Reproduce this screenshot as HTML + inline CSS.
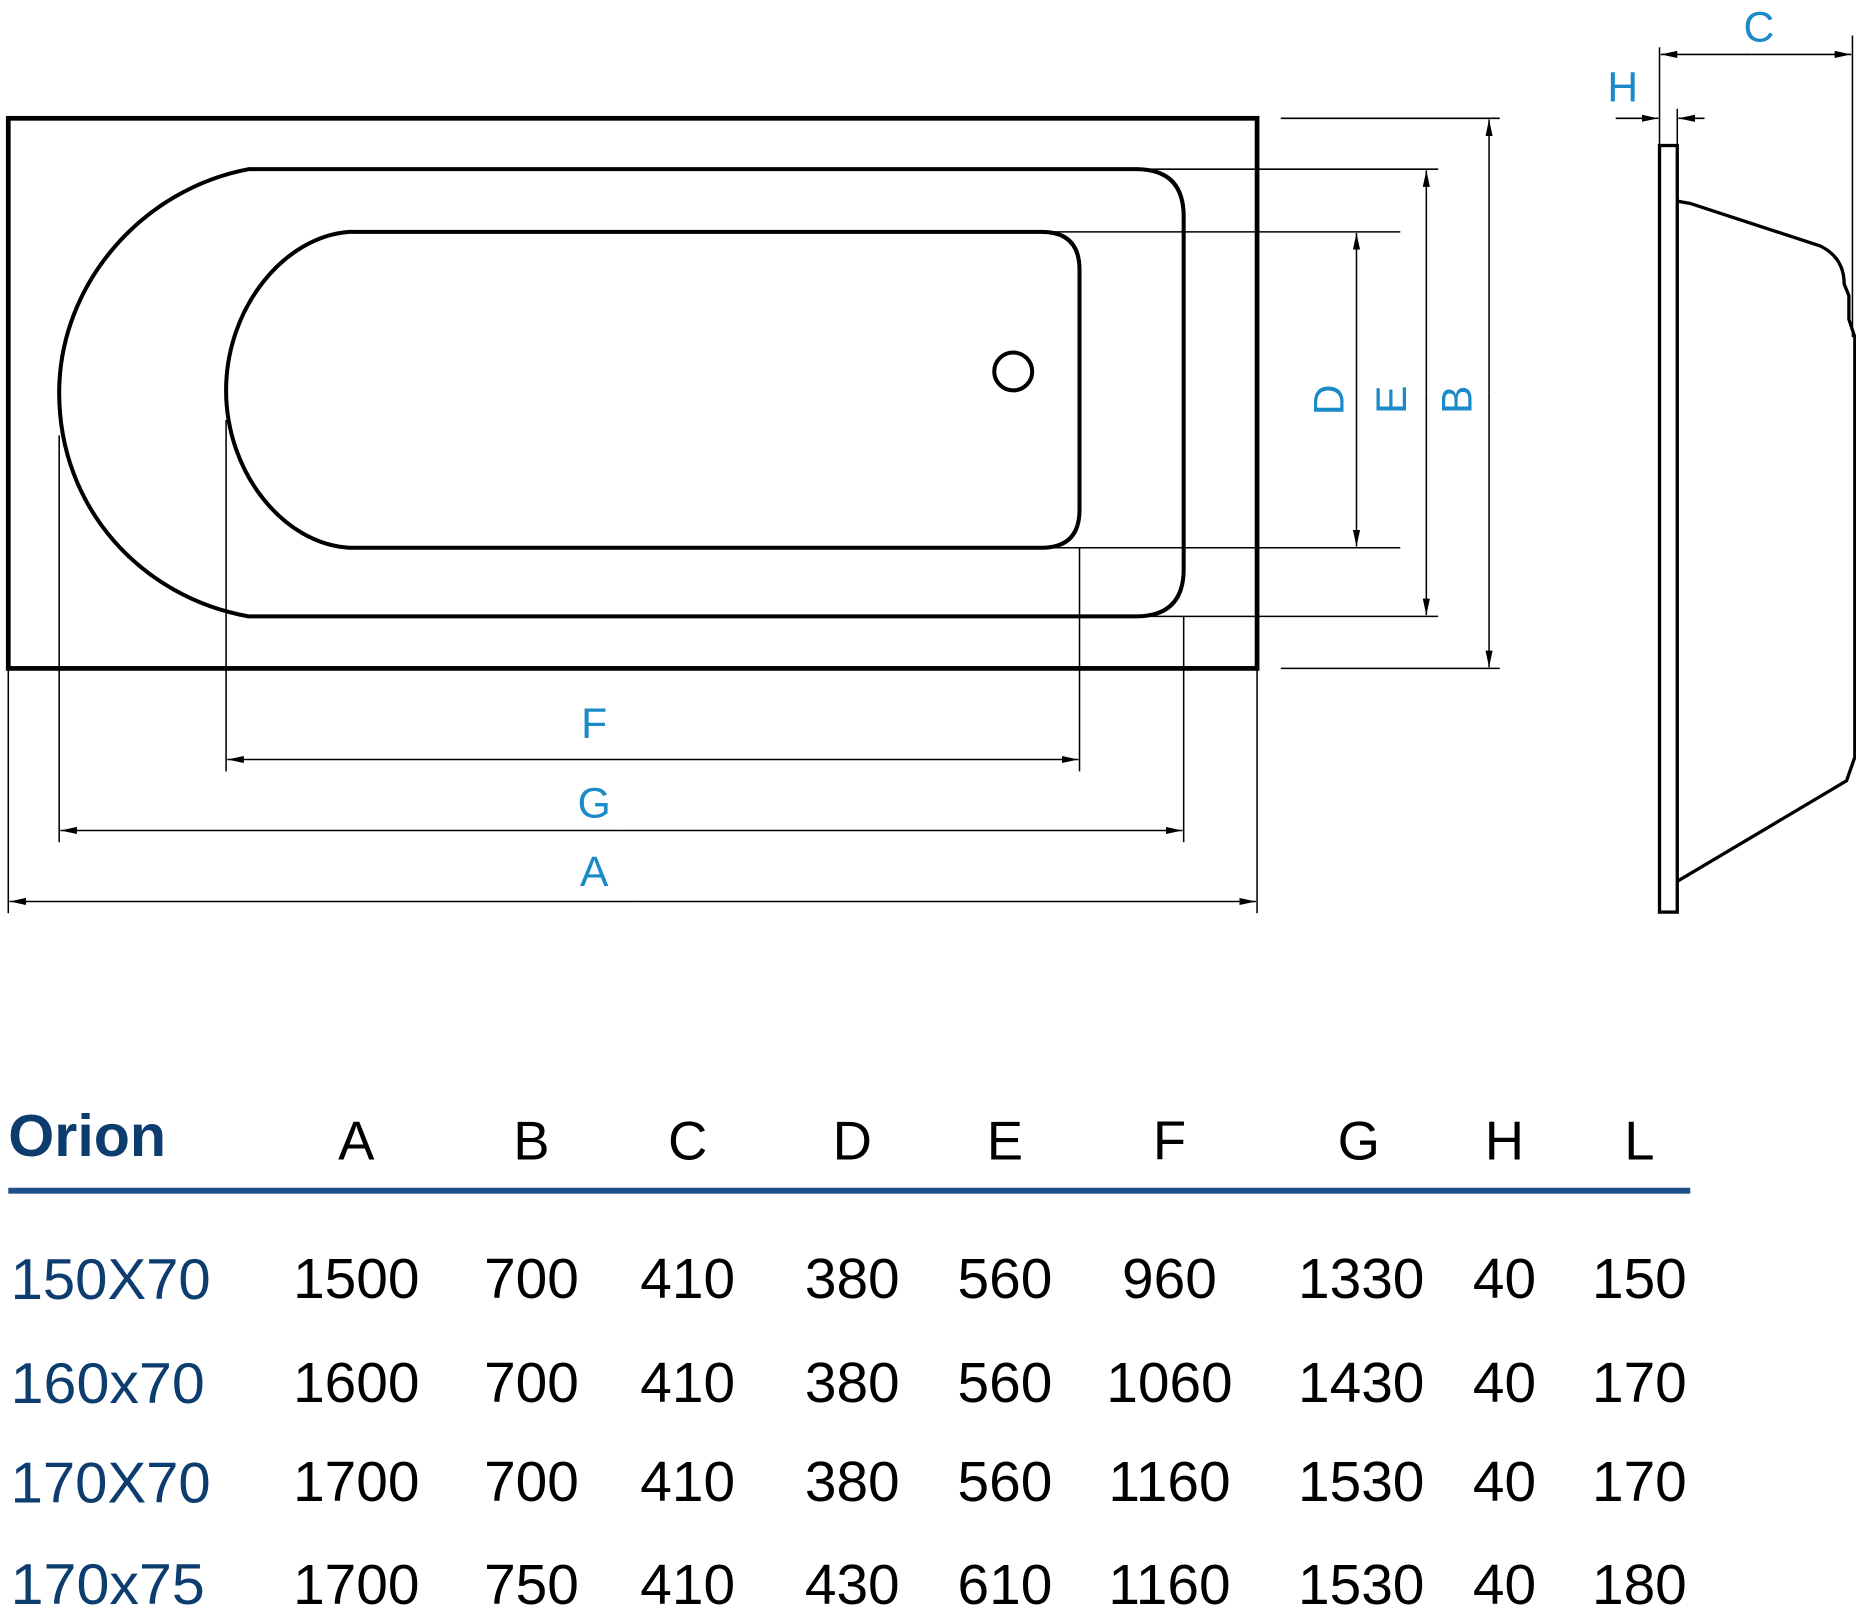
<!DOCTYPE html>
<html><head><meta charset="utf-8"><style>
html,body{margin:0;padding:0;background:#fff;}
svg{display:block;}
text{font-family:"Liberation Sans",sans-serif;}
</style></head><body>
<svg width="1856" height="1616" viewBox="0 0 1568 1366" preserveAspectRatio="none" xmlns="http://www.w3.org/2000/svg">
<defs>
<marker id="ar" markerWidth="14" markerHeight="8" refX="14" refY="4" orient="auto" markerUnits="userSpaceOnUse">
<path d="M0,1 L14,4 L0,7 Z" fill="#000"/></marker>
</defs>
<g fill="none" stroke="#000">
<rect x="7" y="100" width="1055" height="465" stroke-width="4"/>
<path d="M210,143 L960,143 Q1000,143 1000,183 L1000,481 Q1000,521 960,521 L210,521 C120,505 50,430 50,332 C50,240 120,160 210,143 Z" stroke-width="3.4"/>
<path d="M295,196 L880,196 Q912,196 912,228 L912,431 Q912,463 880,463 L295,463 C240,460 191,400 191,330 C191,260 240,200 295,196 Z" stroke-width="3.4"/>
<circle cx="856" cy="314" r="16" stroke-width="3.4"/>
<g stroke-width="1.3">
<line x1="1082" y1="100" x2="1267" y2="100"/><line x1="1082" y1="565" x2="1267" y2="565"/>
<line x1="965" y1="143" x2="1215" y2="143"/><line x1="965" y1="521" x2="1215" y2="521"/>
<line x1="880" y1="196" x2="1183" y2="196"/><line x1="880" y1="463" x2="1183" y2="463"/>
<line x1="1258" y1="332" x2="1258" y2="101" marker-end="url(#ar)"/><line x1="1258" y1="332" x2="1258" y2="564" marker-end="url(#ar)"/>
<line x1="1205" y1="332" x2="1205" y2="144" marker-end="url(#ar)"/><line x1="1205" y1="332" x2="1205" y2="520" marker-end="url(#ar)"/>
<line x1="1146" y1="330" x2="1146" y2="197" marker-end="url(#ar)"/><line x1="1146" y1="330" x2="1146" y2="462" marker-end="url(#ar)"/>
<line x1="191" y1="355" x2="191" y2="652"/><line x1="912" y1="463" x2="912" y2="652"/>
<line x1="50" y1="368" x2="50" y2="712"/><line x1="1000" y1="521" x2="1000" y2="712"/>
<line x1="7" y1="565" x2="7" y2="772"/><line x1="1062" y1="565" x2="1062" y2="772"/>
<line x1="550" y1="642" x2="192" y2="642" marker-end="url(#ar)"/><line x1="550" y1="642" x2="911" y2="642" marker-end="url(#ar)"/>
<line x1="525" y1="702" x2="51" y2="702" marker-end="url(#ar)"/><line x1="525" y1="702" x2="999" y2="702" marker-end="url(#ar)"/>
<line x1="535" y1="762" x2="8" y2="762" marker-end="url(#ar)"/><line x1="535" y1="762" x2="1061" y2="762" marker-end="url(#ar)"/>
<line x1="1402" y1="40" x2="1402" y2="123"/><line x1="1565" y1="30" x2="1565" y2="285"/>
<line x1="1480" y1="46" x2="1403" y2="46" marker-end="url(#ar)"/><line x1="1480" y1="46" x2="1564" y2="46" marker-end="url(#ar)"/>
<line x1="1365" y1="100" x2="1401" y2="100" marker-end="url(#ar)"/><line x1="1440" y1="100" x2="1418" y2="100" marker-end="url(#ar)"/>
<line x1="1417" y1="92" x2="1417" y2="123"/>
</g>
<rect x="1402" y="123" width="15" height="648" stroke-width="2.8"/>
<path d="M1417,170 L1428,172 L1538,208 Q1558,218 1558,240 L1562,250 L1562,270 L1567,285 L1567,640 L1560,660 L1417,745" stroke-width="2.8"/>
</g>
<g fill="#1a8ac8" font-size="36" text-anchor="middle">
<text x="502" y="624">F</text><text x="502" y="691">G</text><text x="502" y="749">A</text>
<text x="1486" y="35">C</text><text x="1371" y="86">H</text>
<text transform="translate(1135,338) rotate(-90)">D</text>
<text transform="translate(1188,338) rotate(-90)">E</text>
<text transform="translate(1243,338) rotate(-90)">B</text>
</g>
<text x="7" y="977" font-size="50" font-weight="bold" fill="#0d3d6e">Orion</text>
<g font-size="46" text-anchor="middle" fill="#000">
<text x="301" y="980">A</text><text x="449" y="980">B</text><text x="581" y="980">C</text><text x="720" y="980">D</text><text x="849" y="980">E</text><text x="988" y="980">F</text><text x="1148" y="980">G</text><text x="1271" y="980">H</text><text x="1385" y="980">L</text>
</g>
<rect x="7" y="1004" width="1421" height="5" fill="#1f4f8a"/>
<g font-size="49" fill="#0d3d6e">
<text x="9" y="1098" textLength="169" lengthAdjust="spacingAndGlyphs">150X70</text><text x="9" y="1186" textLength="164" lengthAdjust="spacingAndGlyphs">160x70</text><text x="9" y="1270" textLength="169" lengthAdjust="spacingAndGlyphs">170X70</text><text x="9" y="1356" textLength="164" lengthAdjust="spacingAndGlyphs">170x75</text>
</g>
<g font-size="48" text-anchor="middle" fill="#000">
<text x="301" y="1097">1500</text><text x="449" y="1097">700</text><text x="581" y="1097">410</text><text x="720" y="1097">380</text><text x="849" y="1097">560</text><text x="988" y="1097">960</text><text x="1150" y="1097">1330</text><text x="1271" y="1097">40</text><text x="1385" y="1097">150</text>
<text x="301" y="1185">1600</text><text x="449" y="1185">700</text><text x="581" y="1185">410</text><text x="720" y="1185">380</text><text x="849" y="1185">560</text><text x="988" y="1185">1060</text><text x="1150" y="1185">1430</text><text x="1271" y="1185">40</text><text x="1385" y="1185">170</text>
<text x="301" y="1269">1700</text><text x="449" y="1269">700</text><text x="581" y="1269">410</text><text x="720" y="1269">380</text><text x="849" y="1269">560</text><text x="988" y="1269">1160</text><text x="1150" y="1269">1530</text><text x="1271" y="1269">40</text><text x="1385" y="1269">170</text>
<text x="301" y="1356">1700</text><text x="449" y="1356">750</text><text x="581" y="1356">410</text><text x="720" y="1356">430</text><text x="849" y="1356">610</text><text x="988" y="1356">1160</text><text x="1150" y="1356">1530</text><text x="1271" y="1356">40</text><text x="1385" y="1356">180</text>
</g>
</svg>
</body></html>
